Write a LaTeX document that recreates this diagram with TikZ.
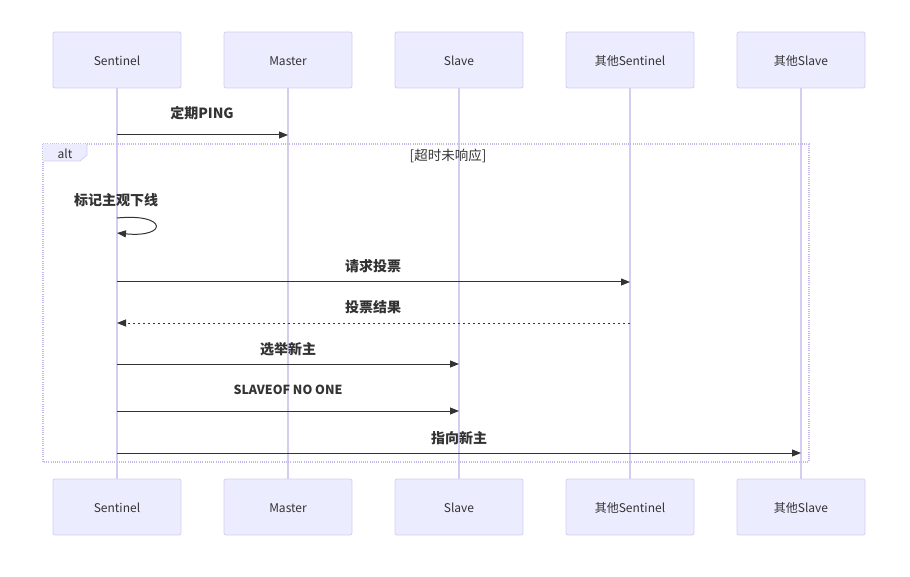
\documentclass[tikz,border=0pt]{standalone}
\usepackage{fontspec}
\setmainfont{Noto Sans CJK SC}
\usetikzlibrary{arrows.meta}
\definecolor{actfill}{HTML}{ECECFF}
\definecolor{actline}{HTML}{D6CCF2}
\definecolor{frameline}{HTML}{C4B8EC}
\definecolor{txt}{HTML}{333333}
\tikzset{
  actor/.style={draw=actline, fill=actfill, line width=0.8pt, rounded corners=2pt,
    minimum width=128pt, minimum height=56pt, inner sep=0pt, text height=11.5pt, text depth=0pt,
    font=\fontsize{12}{14}\selectfont, text=txt},
  life/.style={draw=actline, line width=1.2pt},
  msg/.style={draw=txt, line width=1pt, -{Triangle[length=9pt,width=7pt]}},
  msgd/.style={msg, dash pattern=on 2.5pt off 2.5pt},
  lbl/.style={font=\bfseries\fontsize{14}{16}\selectfont, text=txt, inner sep=0pt},
}
\begin{document}
\begin{tikzpicture}[x=1pt,y=-1pt]
\useasboundingbox (0,0) rectangle (910,577);
% actors
\foreach \n/\x/\t in {a/117/Sentinel, b/288/Master, c/459/Slave, d/630/其他Sentinel, e/801/其他Slave}{
  \node[actor] (\n top) at (\x,60) {\t};
  \node[actor] (\n bot) at (\x,507) {\t};
  \draw[life] (\n top.south) -- (\n bot.north);
}
% alt frame
\draw[frameline, line width=1.1pt, dash pattern=on 1pt off 1.2pt] (43,144) rectangle (809,462);
\fill[actfill] (43,144) -- (87,144) -- (87,155) -- (80,161) -- (43,161) -- cycle;
\draw[actline, line width=0.8pt] (87,144) -- (87,155) -- (80,161) -- (43,161);
\node[text=txt, font=\fontsize{12}{14}\selectfont, inner sep=0pt] (alttxt) at (65,154) {alt};
\node[text=txt, font=\fontsize{13.5}{15}\selectfont, inner sep=0pt] (cond) at (448,156) {[超时未响应]};
% message anchors
\coordinate (p1a) at (117,135); \coordinate (p1b) at (288,135);
\coordinate (p2a) at (117,218); \coordinate (p2b) at (117,233);
\coordinate (p3a) at (117,282); \coordinate (p3b) at (630,282);
\coordinate (p4a) at (630,323); \coordinate (p4b) at (117,323);
\coordinate (p5a) at (117,364); \coordinate (p5b) at (459,364);
\coordinate (p6a) at (117,411); \coordinate (p6b) at (459,411);
\coordinate (p7a) at (117,453); \coordinate (p7b) at (801,453);
% messages
\node[lbl] (l1) at (202,113) {定期PING};
\draw[msg] (p1a) -- (p1b);
\node[lbl] (l2) at (116,200) {标记主观下线};
\draw[msg] (p2a) .. controls (168,213) and (168,238) .. (p2b);
\node[lbl] (l3) at (373,266) {请求投票};
\draw[msg] (p3a) -- (p3b);
\node[lbl] (l4) at (373,307) {投票结果};
\draw[msgd] (p4a) -- (p4b);
\node[lbl] (l5) at (288,349) {选举新主};
\draw[msg] (p5a) -- (p5b);
\node[lbl, font=\bfseries\fontsize{12.5}{14}\selectfont] (l6) at (288,390) {SLAVEOF NO ONE};
\draw[msg] (p6a) -- (p6b);
\node[lbl] (l7) at (459,438) {指向新主};
\draw[msg] (p7a) -- (p7b);
\end{tikzpicture}
\end{document}
